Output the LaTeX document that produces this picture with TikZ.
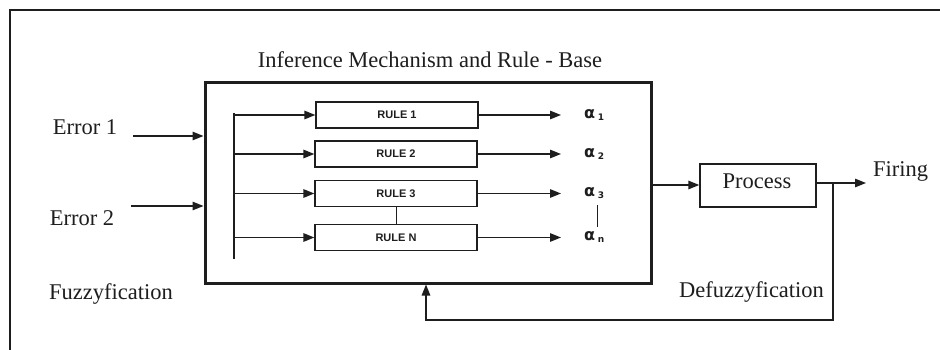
\documentclass[tikz,border=0pt]{standalone}
\usepackage{fontspec}
\setmainfont{Liberation Serif}
\newfontfamily\rulefont{Liberation Sans}
\newfontfamily\alphafont{DejaVu Sans}
\usetikzlibrary{arrows.meta}
\definecolor{ink}{HTML}{1E1E1E}
\tikzset{
  lbl/.style={font=\fontsize{22.5}{26}\selectfont, text=ink, inner sep=0pt},
  rulebox/.style={draw=ink, line width=1.3pt, minimum width=162pt, minimum height=26pt, inner sep=0pt,
    font=\rulefont\bfseries\fontsize{11}{12}\selectfont, text=ink},
  alab/.style={anchor=west, inner sep=0pt, text=ink, font=\alphafont\bfseries\fontsize{16}{17}\selectfont},
  arr/.style={-{Triangle[length=11pt,width=8.5pt]}, line width=1.4pt, draw=ink},
  thin/.style={line width=1.4pt, draw=ink},
}
\newcommand{\asub}[1]{\,\raisebox{-1.5pt}{\fontsize{9}{10}\selectfont #1}}
\begin{document}
\begin{tikzpicture}[x=1pt,y=-1pt]
\useasboundingbox (0,0) rectangle (940,350);
\fill[white] (0,0) rectangle (940,350);
% outer frame (runs off the page to the right and bottom)
\draw[line width=2pt, ink] (10,350) -- (10,10) -- (940,10);

% main block
\node[draw=ink, line width=3pt, minimum width=446pt, minimum height=200pt, inner sep=0pt] (main) at (428,183) {};
\node[lbl] (title) at (430,60) {Inference Mechanism and Rule - Base};

% inputs
\node[lbl] (err1) at (85,127) {Error 1};
\node[lbl] (err2) at (82,218) {Error 2};
\node[lbl] (fuzz) at (111,294) {Fuzzyfication};
\coordinate (e1s) at (133,136);
\coordinate (e2s) at (131,206);
\draw[arr] (e1s) -- (e1s -| main.west);
\draw[arr] (e2s) -- (e2s -| main.west);

% inner bus
\coordinate (bt) at (234,113);
\coordinate (bb) at (234,259);
\draw[thin] (bt) -- (bb);

% rules
\node[rulebox] (r1) at (397,115) {RULE 1};
\node[rulebox] (r2) at (396,154) {RULE 2};
\node[rulebox] (r3) at (396,193.5) {RULE 3};
\node[rulebox] (rn) at (396,237.5) {RULE N};
\foreach \r in {r1,r2,r3,rn}{
  \draw[arr] (bt |- \r.west) -- (\r.west);
}
\coordinate (ax) at (561,0);
\foreach \r in {r1,r2,r3,rn}{
  \draw[arr] (\r.east) -- (ax |- \r.east);
}
\draw[line width=0.8pt, ink] (r3.south) -- (rn.north);

% alpha outputs
\node[alab] (a1) at (584,115) {α\asub{1}};
\node[alab] (a2) at (584,154) {α\asub{2}};
\node[alab] (a3) at (584,193) {α\asub{3}};
\node[alab] (an) at (584,237) {α\asub{n}};
\coordinate (c3) at (597,205);
\coordinate (cn) at (597,227);
\draw[line width=0.8pt, ink] (c3) -- (cn);

% process
\node[draw=ink, line width=1.4pt, minimum width=116pt, minimum height=43pt, inner sep=0pt] (proc) at (758,185.5) {};
\node[lbl] (proctext) at (757,181) {Process};
\draw[arr] (main.east |- 0,185) -- (proc.west |- 0,185);
\coordinate (fend) at (866,183);
\draw[arr] (proc.east |- fend) -- (fend);
\node[lbl, anchor=west] (firing) at (873,171) {Firing};

% feedback
\coordinate (fb1) at (833,183);
\coordinate (fb2) at (833,320);
\coordinate (fb3) at (426,320);
\draw[arr] (fb1) -- (fb2) -- (fb3) -- (fb3 |- main.south);
\node[lbl] (defuzz) at (751.5,292) {Defuzzyfication};
\end{tikzpicture}
\end{document}
